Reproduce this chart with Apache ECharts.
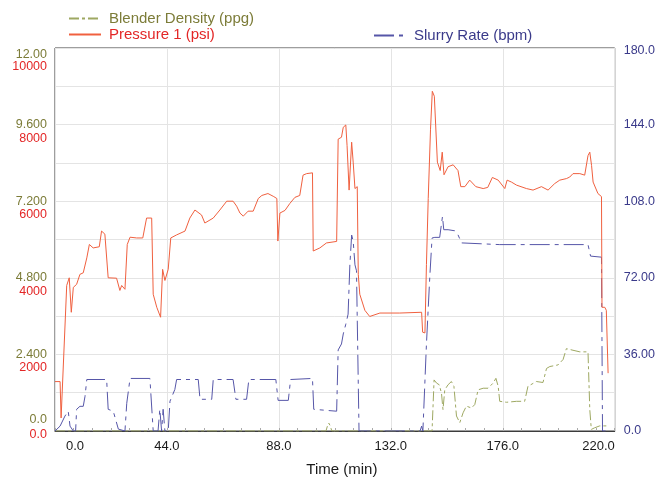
<!DOCTYPE html>
<html>
<head>
<meta charset="utf-8">
<script src="https://cdn.jsdelivr.net/npm/echarts@6/dist/echarts.min.js"></script>
<style>
html,body{margin:0;padding:0;background:#fff;}
#chart{width:658px;height:482px;}
</style>
</head>
<body>
<div id="chart"></div>
<script>
// ---- tick labels ----
const timeLabels = ['0.0', '44.0', '88.0', '132.0', '176.0', '220.0'];
const densityLabels = ['0.0', '2.400', '4.800', '7.200', '9.600', '12.00'];
const pressureLabels = ['0.0', '2000', '4000', '6000', '8000', '10000'];
const rateLabels = ['0.0', '36.00', '72.00', '108.0', '144.0', '180.0'];

// ---- Pressure 1 (psi) ----
const pressureTime = [0, 2.0, 2.4, 3.1, 4.6, 5.6, 6.4, 7.2, 8.5, 9.8,
  11.1, 12.5, 13.5, 15.0, 17.4, 18.3, 19.6, 20.9, 24.2, 25.5,
  26.2, 27.5, 28.4, 29.5, 32.1, 34.5, 36.0, 38.0, 38.6, 40.0,
  41.5, 42.3, 43.2, 44.5, 45.5, 47.8, 51.1, 53.0, 55.0, 57.6,
  58.9, 62.2, 64.8, 67.5, 70.0, 71.4, 72.7, 74.0, 75.9, 77.9,
  79.9, 81.3, 83.7, 86.0, 87.2, 87.6, 88.4, 90.4, 92.3, 94.3,
  96.2, 97.5, 98.9, 101.2, 101.5, 104.1, 106.7, 110.7, 111.3, 112.6,
  113.3, 114.3, 114.8, 115.6, 116.6, 117.2, 117.9, 118.8, 119.2, 119.8,
  121.8, 123.7, 127.7, 135.5, 144.1, 144.5, 145.4, 146.0, 146.7, 147.6,
  148.3, 149.1, 150.3, 151.4, 152.2, 152.9, 154.5, 156.5, 158.4, 159.5,
  161.1, 163.0, 165.4, 168.3, 170.1, 171.9, 174.2, 176.8, 177.7, 179.4,
  181.4, 185.3, 187.9, 191.2, 193.8, 196.4, 198.4, 201.0, 202.3, 203.6,
  206.3, 208.2, 209.5, 210.2, 210.9, 211.5, 213.4, 214.8, 215.0, 216.1,
  216.7, 217.4];
const pressureValues = [1290, 1290, 340, 390, 3800, 4000, 3100, 3750, 3830, 4090,
  4130, 4520, 4870, 4780, 4810, 5220, 5140, 4000, 3990, 3670,
  3800, 3700, 4870, 5060, 5040, 5040, 5560, 5560, 3570, 3230,
  2970, 4220, 3930, 4220, 5040, 5120, 5220, 5560, 5770, 5640,
  5430, 5560, 5770, 6000, 6000, 5870, 5690, 5610, 5740, 5740,
  6070, 6150, 6200, 6120, 6070, 4960, 5690, 5760, 5940, 6100,
  6150, 6680, 6720, 6740, 4700, 4780, 4910, 4950, 7620, 7670,
  7930, 7990, 7450, 6290, 7540, 7020, 6330, 6380, 4090, 3570,
  3150, 2990, 3080, 3080, 3100, 2580, 2560, 4350, 6070, 7880,
  8870, 8740, 7020, 6800, 7280, 6690, 6900, 6950, 6800, 6380,
  6380, 6550, 6380, 6330, 6360, 6620, 6550, 6330, 6550, 6500,
  6420, 6330, 6290, 6380, 6290, 6460, 6550, 6590, 6630, 6720,
  6720, 6680, 7190, 7280, 6930, 6500, 6200, 6120, 3230, 3230,
  3150, 1510];

// ---- Slurry Rate (bpm) ----
const rateTime = [0, 2.0, 3.9, 5.2, 5.9, 7.2, 8.1, 8.5, 9.8, 11.1,
  11.8, 12.5, 20.3, 20.9, 22.9, 24.9, 25.5, 27.5, 28.2, 29.5,
  37.3, 38.6, 40.5, 41.2, 41.9, 42.5, 43.2, 44.5, 45.2, 47.1,
  47.8, 56.3, 57.0, 61.6, 62.2, 70.0, 71.1, 75.3, 76.2, 86.8,
  87.7, 91.7, 92.6, 101.2, 101.7, 110.7, 111.3, 112.6, 113.3, 114.3,
  115.2, 115.9, 116.6, 117.2, 117.9, 118.5, 119.5, 143.5, 144.1, 144.6,
  146.0, 147.3, 148.2, 149.3, 151.2, 152.3, 152.8, 154.5, 157.1, 158.4,
  159.8, 174.8, 209.5, 210.5, 214.8, 215.2, 217.4];
const rateValues = [0, 2.3, 7.0, 9.3, 2.3, 0, 0, 10.2, 11.6, 11.6,
  16.3, 24.2, 24.2, 10.2, 9.3, 0.9, 0, 0, 13.0, 24.7,
  24.7, 0, 0, 10.2, 0, 10.2, 0, 0, 14.0, 19.5,
  24.2, 24.2, 14.9, 14.9, 24.2, 24.2, 14.9, 14.9, 24.2, 24.2,
  14.4, 14.4, 24.2, 24.7, 10.2, 9.3, 38.1, 40.9, 45.6, 50.2,
  54.9, 78.1, 92.1, 89.3, 78.1, 75.3, 0, 0, 2.3, 0,
  40.9, 72.1, 90.7, 91.0, 91.0, 100.8, 94.6, 94.6, 94.1, 92.2,
  88.4, 87.6, 87.6, 82.2, 81.7, 0, 0];

// ---- Blender Density (ppg) ----
const densityTime = [0, 106.5, 107.1, 107.6, 108.2, 108.8, 148.2, 149.0, 150.0, 151.0,
  151.9, 152.5, 153.2, 154.5, 155.8, 156.8, 157.8, 159.1, 160.4, 161.7,
  163.7, 165.0, 166.3, 168.3, 170.2, 172.2, 173.3, 174.2, 174.8, 177.5,
  181.4, 184.6, 185.9, 186.6, 189.2, 191.8, 193.2, 194.5, 197.7, 199.7,
  201.0, 203.6, 206.3, 209.5, 210.2, 210.8, 212.1, 214.1, 216.7];
const densityValues = [0, 0, 0.16, 0.25, 0.16, 0, 0, 1.60, 1.50, 1.45,
  1.19, 0.67, 1.29, 1.45, 1.55, 1.40, 0.47, 0.26, 0.57, 0.78,
  0.72, 0.83, 1.29, 1.34, 1.34, 1.50, 1.65, 1.40, 0.93, 0.90,
  0.93, 0.93, 1.40, 1.45, 1.55, 1.52, 1.96, 2.02, 2.07, 2.24,
  2.58, 2.53, 2.48, 2.48, 0.67, 0.05, 0.10, 0.16, 0.16];

const zip = (xs, ys) => xs.map((x, i) => [x, ys[i]]);
const FONT = '"Liberation Sans", Arial, sans-serif';

const C_DENS_LINE = '#9ea862', C_DENS_TEXT = '#7c7c38';
const C_PRES_LINE = '#f0603f', C_PRES_TEXT = '#e32626';
const C_RATE_LINE = '#5656a8', C_RATE_TEXT = '#3a3a8a';

const chart = echarts.init(document.getElementById('chart'), null, {renderer: 'canvas'});
chart.setOption({
  animation: false,
  backgroundColor: '#fff',
  textStyle: {fontFamily: FONT},
  grid: {left: 55, right: 43, top: 48, bottom: 47, show: true, borderColor: '#3c3c3c', borderWidth: 1},
  legend: [
    {
      orient: 'vertical', left: 63, top: 6, itemWidth: 32, itemHeight: 14, itemGap: 1,
      itemStyle: {opacity: 0, borderWidth: 0},
      textStyle: {fontSize: 15, fontFamily: FONT, padding: [0, 0, 0, 3]},
      data: [
        {name: 'Blender Density (ppg)', textStyle: {color: C_DENS_TEXT}},
        {name: 'Pressure 1 (psi)', textStyle: {color: C_PRES_TEXT}}
      ]
    },
    {
      orient: 'vertical', left: 368, top: 23, itemWidth: 32, itemHeight: 14,
      itemStyle: {opacity: 0, borderWidth: 0},
      textStyle: {fontSize: 15, fontFamily: FONT, padding: [0, 0, 0, 3]},
      data: [{name: 'Slurry Rate (bpm)', textStyle: {color: C_RATE_TEXT}}]
    }
  ],
  xAxis: {
    type: 'value', min: 0, max: 220, interval: 44,
    name: 'Time (min)', nameLocation: 'middle', nameGap: 31,
    nameTextStyle: {fontSize: 15, color: '#1a1a1a', fontFamily: FONT, padding: [0, 0, 0, 14]},
    axisLine: {show: true, lineStyle: {color: '#3c3c3c'}},
    axisTick: {show: true, inside: true, length: 3, lineStyle: {color: '#aaa'}},
    minorTick: {show: true, splitNumber: 6, length: 3, lineStyle: {color: '#aaa'}},
    splitLine: {show: true, lineStyle: {color: '#e4e4e4'}},
    axisLabel: {
      fontSize: 13, color: '#1a1a1a', fontFamily: FONT, margin: 9,
      alignMinLabel: 'left', alignMaxLabel: 'right',
      formatter: (v, i) => i === 0 ? '{first|' + timeLabels[0] + '}' : timeLabels[i],
      rich: {first: {fontSize: 13, color: '#1a1a1a', fontFamily: FONT, padding: [0, 0, 0, 11]}}
    }
  },
  yAxis: [
    {
      type: 'value', position: 'left', min: 0, max: 12, interval: 1.2,
      axisLine: {show: false}, axisTick: {show: false},
      splitLine: {show: true, lineStyle: {color: '#e4e4e4'}},
      axisLabel: {
        fontSize: 12.5, color: C_DENS_TEXT, fontFamily: FONT, margin: 8,
        verticalAlign: 'middle', padding: [0, 0, 5, 0],
        verticalAlignMinLabel: 'bottom', verticalAlignMaxLabel: 'top',
        formatter: (v, i) => (i % 2 === 0 ? densityLabels[i / 2] : '')
      }
    },
    {
      type: 'value', position: 'left', min: 0, max: 10000, interval: 2000,
      axisLine: {show: false}, axisTick: {show: false}, splitLine: {show: false},
      axisLabel: {
        fontSize: 12.5, color: C_PRES_TEXT, fontFamily: FONT, margin: 8,
        verticalAlign: 'top',
        verticalAlignMinLabel: 'middle', verticalAlignMaxLabel: 'top',
        formatter: (v, i) => {
          if (i === 0) return '{z|' + pressureLabels[0] + '}';
          if (i === pressureLabels.length - 1) return '{mx|' + pressureLabels[i] + '}';
          return '{n|' + pressureLabels[i] + '}';
        },
        rich: {
          z: {fontSize: 12.5, color: C_PRES_TEXT, fontFamily: FONT, padding: [8, 0, 0, 0]},
          n: {fontSize: 12.5, color: C_PRES_TEXT, fontFamily: FONT, padding: [7, 0, 0, 0]},
          mx: {fontSize: 12.5, color: C_PRES_TEXT, fontFamily: FONT, padding: [12, 0, 0, 0]}
        }
      }
    },
    {
      type: 'value', position: 'right', min: 0, max: 180, interval: 36,
      axisLine: {show: false}, axisTick: {show: false}, splitLine: {show: false},
      axisLabel: {
        fontSize: 12.5, color: C_RATE_TEXT, fontFamily: FONT, margin: 9,
        verticalAlign: 'middle',
        formatter: (v, i) => (i === rateLabels.length - 1 ? '{mx|' + rateLabels[i] + '}' : '{n|' + rateLabels[i] + '}'),
        rich: {
          n: {fontSize: 12.5, color: C_RATE_TEXT, fontFamily: FONT},
          mx: {fontSize: 12.5, color: C_RATE_TEXT, fontFamily: FONT, padding: [6, 0, 0, 0]}
        }
      }
    }
  ],
  series: [
    {
      name: 'Blender Density (ppg)', type: 'line', yAxisIndex: 0, symbol: 'none',
      data: zip(densityTime, densityValues),
      lineStyle: {color: C_DENS_LINE, width: 1, type: [10, 3, 3, 3]},
      itemStyle: {color: C_DENS_LINE}, z: 3
    },
    {
      name: 'Pressure 1 (psi)', type: 'line', yAxisIndex: 1, symbol: 'none',
      data: zip(pressureTime, pressureValues),
      lineStyle: {color: C_PRES_LINE, width: 1},
      itemStyle: {color: C_PRES_LINE}, z: 4
    },
    {
      name: 'Slurry Rate (bpm)', type: 'line', yAxisIndex: 2, symbol: 'none',
      data: zip(rateTime, rateValues),
      lineStyle: {color: C_RATE_LINE, width: 1, type: [20, 5, 4, 5]},
      itemStyle: {color: C_RATE_LINE}, z: 3
    }
  ]
});
</script>
</body>
</html>
